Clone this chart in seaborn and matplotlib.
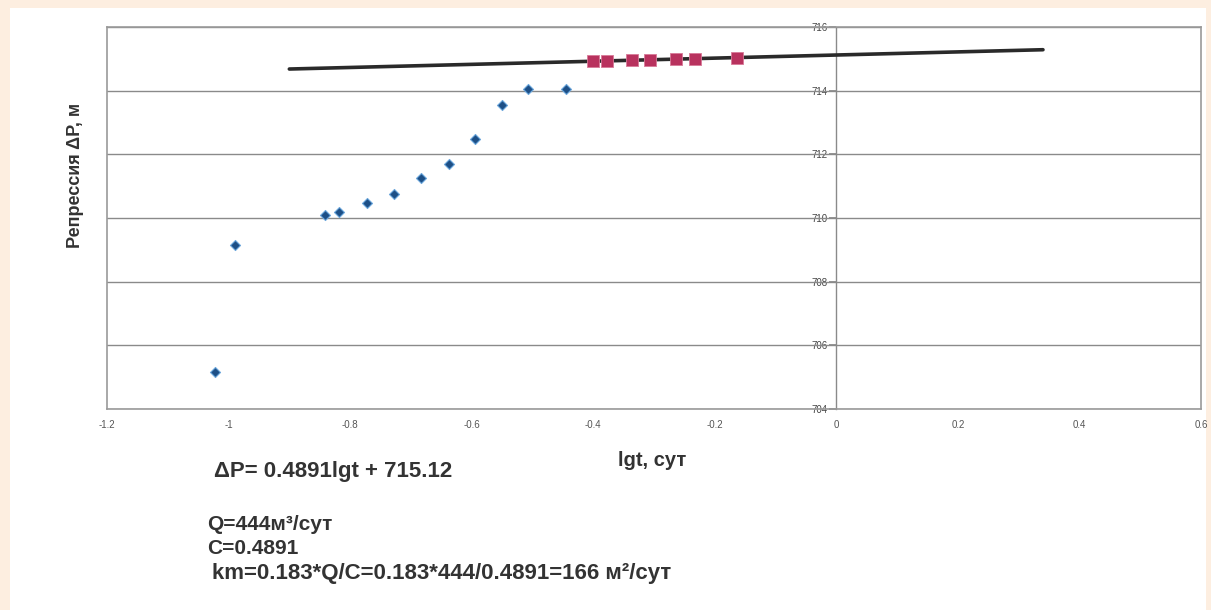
import matplotlib
matplotlib.use("Agg")
import matplotlib.pyplot as plt
from matplotlib.patches import Rectangle
import numpy as np
import pandas as pd
import seaborn as sns

# Early-time points (before the semilog straight-line section)
lgt_early = [-1.023, -0.990, -0.841, -0.819, -0.773, -0.727, -0.683,
             -0.638, -0.594, -0.550, -0.507, -0.444]
dp_early = [705.16, 709.15, 710.09, 710.19, 710.47, 710.75, 711.26,
            711.70, 712.48, 713.55, 714.05, 714.05]

# Points used for the straight-line fit
lgt_fit = [-0.401, -0.377, -0.336, -0.306, -0.263, -0.232, -0.163]
dp_fit = [714.92, 714.93, 714.95, 714.97, 714.99, 715.01, 715.04]

# Fitted line dP = C*lgt + b
slope_c = 0.4891
intercept_b = 715.12
line_x = [-0.90, 0.34]

x_ticks = [-1.2, -1.0, -0.8, -0.6, -0.4, -0.2, 0.0, 0.2, 0.4, 0.6]
x_tick_labels = ["-1.2", "-1", "-0.8", "-0.6", "-0.4", "-0.2", "0", "0.2", "0.4", "0.6"]
y_ticks = [704, 706, 708, 710, 712, 714, 716]

sns.set_theme(style="white")
plt.rcParams["font.family"] = ["Liberation Sans", "DejaVu Sans"]

fig = plt.figure(figsize=(12.11, 6.10), dpi=100, facecolor="#fdeee0")
# white sheet under the chart
fig.patches.append(Rectangle((10 / 1211, 0), 1196 / 1211, 602 / 610,
                             transform=fig.transFigure, facecolor="white",
                             edgecolor="none", zorder=-10))

ax = fig.add_axes([107 / 1211, 1 - 409 / 610, 1094 / 1211, 382 / 610])
ax.set_facecolor("white")

df_early = pd.DataFrame({"lgt": lgt_early, "dp": dp_early})
df_fit = pd.DataFrame({"lgt": lgt_fit, "dp": dp_fit})
df_line = pd.DataFrame({"lgt": line_x,
                        "dp": [slope_c * v + intercept_b for v in line_x]})

sns.lineplot(data=df_line, x="lgt", y="dp", ax=ax, color="#2a2a2a",
             linewidth=2.6, zorder=3)
sns.scatterplot(data=df_early, x="lgt", y="dp", ax=ax, marker="D", s=26,
                color="#1d4f86", edgecolor="#6aa6dc", linewidth=0.8, zorder=4)
sns.scatterplot(data=df_fit, x="lgt", y="dp", ax=ax, marker="s", s=66,
                color="#b8325e", edgecolor="#d87a98", linewidth=0.6, zorder=4)

ax.set_xlim(-1.2, 0.6)
ax.set_ylim(704, 716)
ax.set_xticks(x_ticks)
ax.set_xticklabels(x_tick_labels, fontsize=7, color="#555555")
ax.tick_params(axis="x", length=2, color="#888888", pad=6)
ax.set_yticks(y_ticks)
ax.tick_params(axis="y", left=False, labelleft=False)
ax.yaxis.grid(True, color="#8a8a8a", linewidth=1.0)
ax.xaxis.grid(False)
for side in ["left", "right", "top", "bottom"]:
    ax.spines[side].set_visible(True)
    ax.spines[side].set_color("#9a9a9a")
    ax.spines[side].set_linewidth(1.2)

# Value axis crossing at lgt = 0, labels on its left side
zero_pos = (0 - (-1.2)) / 1.8
sec = ax.secondary_yaxis(zero_pos)
sec.set_alignment("left")
sec.set_yticks(y_ticks)
sec.set_yticklabels([str(v) for v in y_ticks], fontsize=7, color="#444444")
sec.tick_params(axis="y", length=5, color="#888888", pad=1)
for sp in sec.spines.values():
    sp.set_color("#8a8a8a")
    sp.set_linewidth(1.0)

ax.set_xlabel("")
ax.set_ylabel("")
fig.text(75 / 1211, 1 - 175 / 610, "Репрессия ΔP, м", rotation=90,
         ha="center", va="center", fontsize=13, fontweight="bold", color="#333333")
fig.text(652 / 1211, 1 - 460 / 610, "lgt, сут", ha="center", va="center",
         fontsize=14.5, fontweight="bold", color="#333333")

fig.text(214 / 1211, 1 - 472 / 610, "ΔP= 0.4891lgt + 715.12", ha="left", va="center",
         fontsize=16, fontweight="bold", color="#333333")
fig.text(207 / 1211, 1 - 524 / 610, "Q=444м³/сут", ha="left", va="center",
         fontsize=15, fontweight="bold", color="#333333")
fig.text(207 / 1211, 1 - 548 / 610, "C=0.4891", ha="left", va="center",
         fontsize=15, fontweight="bold", color="#333333")
fig.text(212 / 1211, 1 - 573 / 610, "km=0.183*Q/C=0.183*444/0.4891=166 м²/сут",
         ha="left", va="center", fontsize=16, fontweight="bold", color="#333333")

fig.savefig("out.png", dpi=100, facecolor=fig.get_facecolor())
